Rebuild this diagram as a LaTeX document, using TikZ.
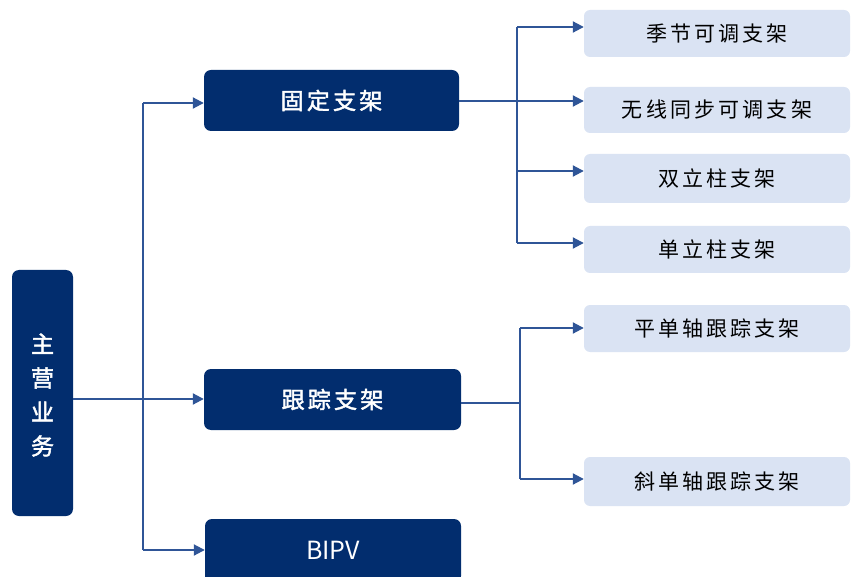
\documentclass[tikz,border=0pt]{standalone}
\usepackage{fontspec}
\usetikzlibrary{arrows.meta,positioning}
\newfontfamily\cjk[LetterSpace=15]{Noto Sans CJK SC}
\newfontfamily\cjkb[LetterSpace=14,FakeBold=2]{Noto Sans CJK SC}
\newfontfamily\latb{Noto Sans CJK SC}
\definecolor{navy}{HTML}{022D6E}
\definecolor{lightbox}{HTML}{DAE3F3}
\definecolor{linec}{HTML}{2F5597}
\tikzset{
  darkbox/.style={fill=navy,rounded corners=7pt,text=white,inner sep=0pt},
  lightnode/.style={fill=lightbox,rounded corners=6pt,text=black,inner sep=0pt,minimum width=266pt,font=\cjk\fontsize{21pt}{22pt}\selectfont},
  conn/.style={draw=linec,line width=2pt},
  arr/.style={conn,-{Triangle[length=11pt,width=11pt]}}
}
\begin{document}
\begin{tikzpicture}[x=1pt,y=-1pt]
\useasboundingbox (0,0) rectangle (851,577);
\begin{scope}
\clip (0,0) rectangle (851,577);
% main dark boxes
\node[darkbox,minimum width=61pt,minimum height=246pt] (main) at (42.5,393) {};
\node[text=white,inner sep=0pt,font=\cjkb\fontsize{23pt}{34pt}\selectfont,align=center] (maint) at (42.5,395) {主\\营\\业\\务};
\node[darkbox,minimum width=255pt,minimum height=61pt,font=\cjkb\fontsize{23pt}{24pt}\selectfont] (fixed) at (331.5,100.5) {固定支架};
\node[darkbox,minimum width=257pt,minimum height=61pt,font=\cjkb\fontsize{23pt}{24pt}\selectfont] (track) at (332.5,399.5) {跟踪支架};
\node[darkbox,minimum width=256pt,minimum height=64pt] (bipv) at (333,551) {};
\node[text=white,font=\latb\fontsize{25pt}{26pt}\selectfont,inner sep=0pt] (bipvt) at (333,550) {BIPV};
% light boxes
\node[lightnode,minimum height=47pt] (s1) at (717,33.5) {季节可调支架};
\node[lightnode,minimum height=46pt] (s2) at (717,110) {无线同步可调支架};
\node[lightnode,minimum height=49pt] (s3) at (717,178.5) {双立柱支架};
\node[lightnode,minimum height=47pt] (s4) at (717,249.5) {单立柱支架};
\node[lightnode,minimum height=47pt] (t1) at (717,328.5) {平单轴跟踪支架};
\node[lightnode,minimum height=49pt] (t2) at (717,481.5) {斜单轴跟踪支架};
% coordinates
\coordinate (lv) at (143,399);
\coordinate (fv) at (517,101);
\coordinate (tv) at (520,403);
% left trunk
\draw[arr] (main.east |- lv) -- (track.west |- lv);
\draw[conn] (143,103) -- (143,550);
\draw[arr] (143,103) -- (fixed.west |- 0,103);
\draw[arr] (143,550) -- (bipv.west |- 0,550);
% fixed branches
\draw[arr] (fixed.east |- fv) -- (s2.west |- fv);
\draw[conn] (517,27) -- (517,243);
\draw[arr] (517,27) -- (s1.west |- 0,27);
\draw[arr] (517,171) -- (s3.west |- 0,171);
\draw[arr] (517,243) -- (s4.west |- 0,243);
% tracking branches
\draw[conn] (track.east |- tv) -- (tv);
\draw[conn] (520,328) -- (520,479);
\draw[arr] (520,328) -- (t1.west |- 0,328);
\draw[arr] (520,479) -- (t2.west |- 0,479);
\end{scope}
\end{tikzpicture}
\end{document}
